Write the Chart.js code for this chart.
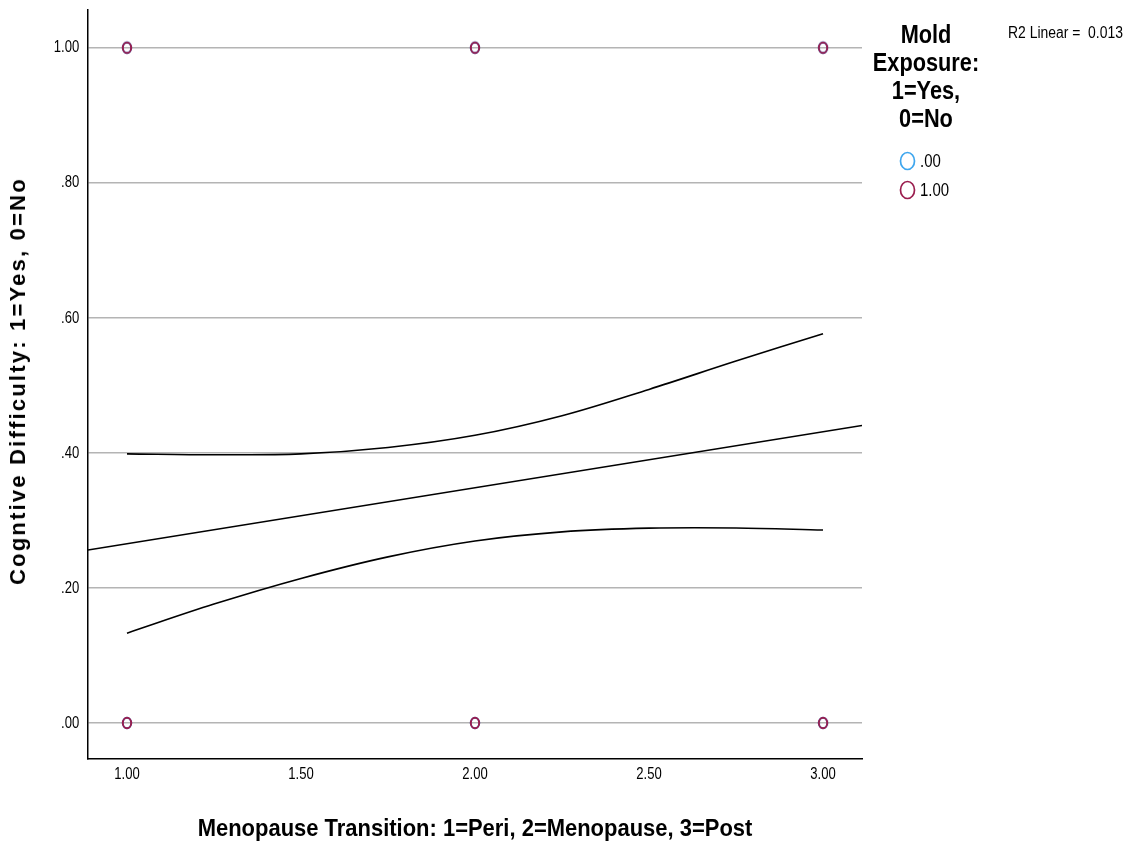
<!DOCTYPE html>
<html>
<head>
<meta charset="utf-8">
<script src="https://cdn.jsdelivr.net/npm/chart.js@4"></script>
<style>
  html,body{margin:0;padding:0;background:#fff;}
  #wrap{position:relative;width:1128px;height:842px;overflow:hidden;}
  canvas{position:absolute;left:0;top:0;}
  .t{position:absolute;color:#000;white-space:nowrap;font-family:"Liberation Sans",Arial,sans-serif;}
  #xtitle{left:475px;top:828px;transform:translate(-50%,-50%) scaleX(0.915);font-weight:bold;font-size:24px;}
  #ytitle{left:18px;top:381px;transform:translate(-50%,-50%) rotate(-90deg);font-weight:bold;font-size:22px;letter-spacing:2.2px;}
  #legtitle{left:926px;top:20px;transform:translateX(-50%) scaleX(0.87);text-align:center;font-weight:bold;font-size:25px;line-height:28px;}
  .li{position:absolute;left:899px;height:24px;}
  .li span{position:absolute;left:21px;top:50%;transform:translateY(-50%) scaleX(0.83);transform-origin:left center;font-family:"Liberation Sans",Arial,sans-serif;font-size:18px;white-space:nowrap;}
  #r2{left:1008px;top:33px;transform:translateY(-50%) scaleX(0.87);transform-origin:left center;font-size:16px;}
</style>
</head>
<body>
<div id="wrap">
  <canvas id="c" width="1128" height="842"></canvas>
  <div class="t" id="xtitle">Menopause Transition: 1=Peri, 2=Menopause, 3=Post</div>
  <div class="t" id="ytitle">Cogntive Difficulty: 1=Yes, 0=No</div>
  <div class="t" id="legtitle">Mold<br>Exposure:<br>1=Yes,<br>0=No</div>
  <div class="li" style="top:149px;"><svg width="18" height="24" style="position:absolute;left:0;top:0"><ellipse cx="8.5" cy="12" rx="7" ry="8.5" fill="none" stroke="#3ea6ee" stroke-width="1.7"/></svg><span>.00</span></div>
  <div class="li" style="top:178px;"><svg width="18" height="24" style="position:absolute;left:0;top:0"><ellipse cx="8.5" cy="12" rx="7" ry="8.5" fill="none" stroke="#9a1d4e" stroke-width="1.7"/></svg><span>1.00</span></div>
  <div class="t" id="r2">R2 Linear =&nbsp; 0.013</div>
</div>
<script>
// ---- data ----
const xTicks = [1.00, 1.50, 2.00, 2.50, 3.00];
const yTicks = [0, 0.20, 0.40, 0.60, 0.80, 1.00];
const moldNoX  = [1, 1, 2, 2, 3, 3];
const moldNoY  = [0, 1, 0, 1, 0, 1];
const moldYesX = [1, 1, 2, 2, 3, 3];
const moldYesY = [0, 1, 0, 1, 0, 1];
const fitX = [0.888, 3.112];
const fitY = [0.2561, 0.4405];
const ciX = [1.00, 1.25, 1.50, 1.75, 2.00, 2.25, 2.50, 2.75, 3.00];
const ciUpper = [0.3985, 0.3972, 0.3985, 0.408, 0.426, 0.455, 0.494, 0.536, 0.5764];
const ciLower = [0.133, 0.176, 0.214, 0.246, 0.2695, 0.283, 0.2885, 0.2888, 0.2857];

const toPts = (xs, ys) => xs.map((x, i) => ({x: x, y: ys[i]}));

function ellipseMarker(color){
  const cv = document.createElement('canvas');
  cv.width = 14; cv.height = 16;
  const g = cv.getContext('2d');
  g.strokeStyle = color; g.lineWidth = 2;
  g.beginPath(); g.ellipse(7, 8, 4.2, 5.3, 0, 0, Math.PI*2); g.stroke();
  return cv;
}

const lineDs = (data) => ({
  type: 'line', data: data, borderColor: '#000', borderWidth: 1.6,
  pointRadius: 0, fill: false, tension: 0.35, order: 0
});

const TICK_FONT = '17px "Liberation Sans", Arial, sans-serif';
const fmtY = v => v.toFixed(2).replace(/^0/, '');
const fmtX = v => v.toFixed(2);

// condensed tick labels, positioned by the chart's own scales
const condensedTicks = {
  id: 'condensedTicks',
  afterDraw(chart) {
    const ctx = chart.ctx, xs = chart.scales.x, ys = chart.scales.y;
    ctx.save();
    ctx.font = TICK_FONT; ctx.fillStyle = '#000';
    ctx.textBaseline = 'middle';
    ys.ticks.forEach(t => {
      const py = ys.getPixelForValue(t.value);
      ctx.save(); ctx.translate(ys.right - 8.7, py); ctx.scale(0.77, 1);
      ctx.textAlign = 'right'; ctx.fillText(fmtY(t.value), 0, 0); ctx.restore();
    });
    xs.ticks.forEach(t => {
      const px = xs.getPixelForValue(t.value);
      ctx.save(); ctx.translate(px, xs.top + 15); ctx.scale(0.77, 1);
      ctx.textAlign = 'center'; ctx.fillText(fmtX(t.value), 0, 0); ctx.restore();
    });
    ctx.restore();
  }
};

new Chart(document.getElementById('c'), {
  type: 'scatter',
  data: {
    datasets: [
      {label: '.00', data: toPts(moldNoX, moldNoY), pointStyle: ellipseMarker('#3ea6ee'), pointRadius: 7, order: 2},
      {label: '1.00', data: toPts(moldYesX, moldYesY), pointStyle: ellipseMarker('#9a1d4e'), pointRadius: 7, order: 1},
      Object.assign(lineDs(toPts(fitX, fitY)), {tension: 0}),
      lineDs(toPts(ciX, ciUpper)),
      lineDs(toPts(ciX, ciLower))
    ]
  },
  plugins: [condensedTicks],
  options: {
    responsive: false, animation: false,
    layout: {padding: {left: 0, top: 10, right: 266, bottom: 0}},
    plugins: {legend: {display: false}, tooltip: {enabled: false}},
    scales: {
      x: {
        type: 'linear', min: 0.888, max: 3.112,
        afterBuildTicks: s => { s.ticks = xTicks.map(v => ({value: v})); },
        afterFit: s => { s.height = 83; },
        grid: {display: false, drawTicks: false},
        border: {display: true, color: '#000', width: 1.5},
        ticks: {display: false}
      },
      y: {
        type: 'linear', min: -0.0534, max: 1.0559,
        afterBuildTicks: s => { s.ticks = yTicks.map(v => ({value: v})); },
        afterFit: s => { s.width = 88; },
        grid: {display: true, drawTicks: false, color: '#b4b4b4', lineWidth: 1.6},
        border: {display: true, color: '#000', width: 1.5},
        ticks: {display: false}
      }
    }
  }
});
</script>
</body>
</html>
